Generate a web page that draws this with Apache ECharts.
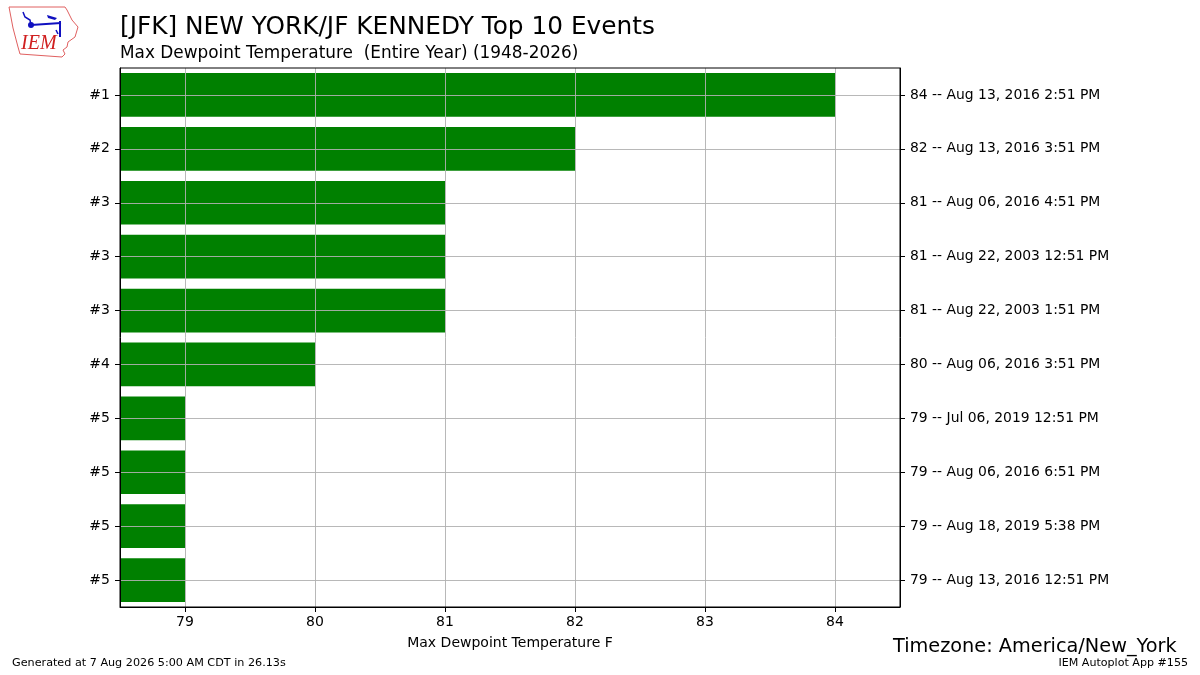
<!DOCTYPE html>
<html>
<head>
<meta charset="utf-8">
<script src="https://cdn.jsdelivr.net/npm/echarts@6/dist/echarts.min.js"></script>
<style>
  html, body { margin: 0; padding: 0; background: #fff; }
  #chart { width: 1200px; height: 675px; }
</style>
</head>
<body>
<div id="chart"></div>
<script>
// data
var ranks = ['#1', '#2', '#3', '#3', '#3', '#4', '#5', '#5', '#5', '#5'];
var values = [84, 82, 81, 81, 81, 80, 79, 79, 79, 79];
var dates = [
    'Aug 13, 2016 2:51 PM',
    'Aug 13, 2016 3:51 PM',
    'Aug 06, 2016 4:51 PM',
    'Aug 22, 2003 12:51 PM',
    'Aug 22, 2003 1:51 PM',
    'Aug 06, 2016 3:51 PM',
    'Jul 06, 2019 12:51 PM',
    'Aug 06, 2016 6:51 PM',
    'Aug 18, 2019 5:38 PM',
    'Aug 13, 2016 12:51 PM'
];
var xTicks = [79, 80, 81, 82, 83, 84];

var rightLabels = values.map(function (v, i) { return v + ' -- ' + dates[i]; });
var idx = ranks.map(function (r, i) { return String(i); });

var font = 'DejaVu Sans';
var gridColor = 'rgba(176,176,176,0.9)';
var myChart = echarts.init(document.getElementById('chart'), null, { renderer: 'canvas' });

myChart.setOption({
    backgroundColor: '#fff',
    animation: false,
    textStyle: { fontFamily: font },
    title: [
        {
            text: '[JFK] NEW YORK/JF KENNEDY Top 10 Events',
            left: 115, top: 10,
            textStyle: { fontFamily: font, fontSize: 24.8, fontWeight: 'normal', color: '#000' }
        },
        {
            text: 'Max Dewpoint Temperature  (Entire Year) (1948-2026)',
            left: 115, top: 40,
            textStyle: { fontFamily: font, fontSize: 16.9, fontWeight: 'normal', color: '#000' }
        }
    ],
    grid: { left: 120, right: 300, top: 68, bottom: 68, containLabel: false },
    xAxis: {
        type: 'value',
        min: 78.5,
        max: 84.5,
        z: 5,
        name: 'Max Dewpoint Temperature F',
        nameLocation: 'middle',
        nameGap: 29,
        nameTextStyle: { fontFamily: font, fontSize: 14, color: '#000' },
        axisLine: { show: true, lineStyle: { color: '#000', width: 1 } },
        axisTick: { show: true, length: 5, customValues: xTicks, lineStyle: { color: '#000' } },
        axisLabel: { customValues: xTicks, fontFamily: font, fontSize: 14, color: '#000', margin: 8 },
        splitLine: { show: true, lineStyle: { color: gridColor, width: 1 } }
    },
    yAxis: [
        {
            type: 'category',
            data: idx,
            inverse: true,
            z: 5,
            axisLine: { show: true, lineStyle: { color: '#000' } },
            axisTick: { show: true, alignWithLabel: true, length: 5, lineStyle: { color: '#000' } },
            axisLabel: {
                fontFamily: font, fontSize: 14, color: '#000', margin: 10,
                padding: [3, 0, 0, 0],
                formatter: function (v, i) { return ranks[i]; }
            },
            splitLine: { show: false }
        },
        {
            type: 'category',
            data: idx,
            inverse: true,
            position: 'right',
            z: 5,
            axisLine: { show: true, lineStyle: { color: '#000' } },
            axisTick: { show: true, alignWithLabel: true, length: 5, lineStyle: { color: '#000' } },
            axisLabel: {
                fontFamily: font, fontSize: 13.9, color: '#000', margin: 10,
                padding: [3, 0, 0, 0],
                formatter: function (v, i) { return rightLabels[i]; }
            },
            splitLine: { show: false }
        }
    ],
    series: [
        {
            type: 'bar',
            yAxisIndex: 0,
            data: values,
            barWidth: '81%',
            itemStyle: { color: '#008000' },
            z: 2,
            markLine: {
                silent: true,
                symbol: 'none',
                label: { show: false },
                z: 4,
                lineStyle: { type: 'solid', color: gridColor, width: 1 },
                data: idx.map(function (c) { return { yAxis: c }; })
            }
        }
    ],
    graphic: [
        {
            type: 'rect',
            z: 10,
            silent: true,
            shape: { x: 120, y: 68, width: 780, height: 539 },
            style: { fill: 'none', stroke: '#000', lineWidth: 1 }
        },
        {
            type: 'polygon',
            shape: {
                points: [[9, 7], [65, 7], [67, 10], [72, 20], [78, 27], [75, 37], [68, 42],
                         [67, 47], [63, 50], [65, 54], [62, 57], [20, 54], [18, 47], [13, 28]]
            },
            style: { fill: 'none', stroke: '#e06060', lineWidth: 1 }
        },
        {
            type: 'polyline',
            shape: { points: [[23, 12], [25, 17], [30, 20], [31, 25]] },
            style: { fill: 'none', stroke: '#1010c0', lineWidth: 1.5 }
        },
        {
            type: 'polyline',
            shape: { points: [[31, 25], [61, 23]] },
            style: { stroke: '#1010c0', lineWidth: 2 }
        },
        {
            type: 'circle',
            shape: { cx: 31, cy: 25, r: 3 },
            style: { fill: '#1010c0' }
        },
        {
            type: 'polygon',
            shape: { points: [[47, 15], [57, 18], [55, 20], [48, 18]] },
            style: { fill: '#1010c0' }
        },
        {
            type: 'polyline',
            shape: { points: [[60, 21], [60, 37]] },
            style: { stroke: '#1010c0', lineWidth: 2 }
        },
        {
            type: 'polyline',
            shape: { points: [[56, 30], [58, 34]] },
            style: { stroke: '#1010c0', lineWidth: 1.5 }
        },
        {
            type: 'text',
            left: 21, top: 34,
            style: { text: 'IEM', fontFamily: 'Liberation Serif', fontStyle: 'italic', fontSize: 20, fill: '#d02020' }
        },
        {
            type: 'text',
            left: 893, top: 637,
            style: { text: 'Timezone: America/New_York', fontFamily: font, fontSize: 19.3, fill: '#000' }
        },
        {
            type: 'text',
            right: 12, top: 658,
            style: { text: 'IEM Autoplot App #155', fontFamily: font, fontSize: 11.1, fill: '#000' }
        },
        {
            type: 'text',
            left: 12, top: 658,
            style: { text: 'Generated at 7 Aug 2026 5:00 AM CDT in 26.13s', fontFamily: font, fontSize: 11.2, fill: '#000' }
        }
    ]
});
</script>
</body>
</html>
